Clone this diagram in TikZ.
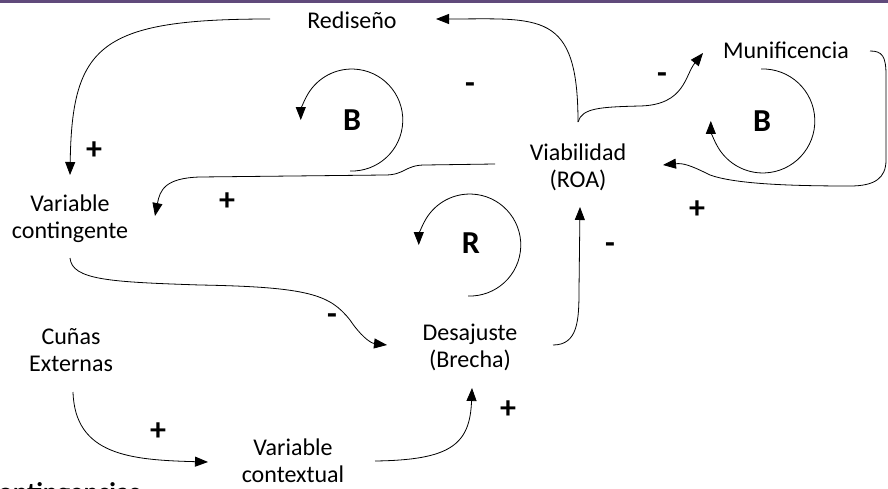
\documentclass[tikz,border=0pt]{standalone}
\usepackage{fontspec}
\setmainfont{Carlito}
\usetikzlibrary{arrows.meta,calc}
\definecolor{barpurple}{RGB}{96,74,123}

\begin{document}
\begin{tikzpicture}[x=1pt,y=-1pt,inner sep=0pt,
  var/.style={align=center,font=\fontsize{24}{27}\selectfont},
  sgn/.style={font=\fontsize{32}{38}\selectfont\bfseries},
  loopname/.style={font=\fontsize{32}{38}\selectfont\bfseries},
  link/.style={line width=0.8pt,-{Triangle[length=13pt,width=10pt]}}]
\useasboundingbox (0,0) rectangle (888,489);
\clip (0,0) rectangle (888,489);
\fill[barpurple] (0,0) rectangle (888,3);

% variables
\node[var] (redis) at (352,20) {Rediseño};
\node[var] (munif) at (786,50) {Munificencia};
\node[var] (viab) at (578,167) {Viabilidad\\(ROA)};
\node[var] (vcont) at (70,219) {Variable\\contingente};
\node[var] (desaj) at (470,347) {Desajuste\\(Brecha)};
\node[var] (cunas) at (71,350) {Cuñas\\Externas};
\node[var] (vctx) at (293,461) {Variable\\contextual};
\node[font=\fontsize{27}{32}\selectfont\bfseries,anchor=base west] (pie) at (-13,501) {contingencias};

% links
\draw[link] ($(redis)+(-82,-1)$) .. controls +(-170,0) and +(2,-130) .. ($(vcont)+(0,-44)$);
\draw[link] ($(viab)+(0,-45)$) .. controls +(0,-112) and +(104,0) .. ($(redis)+(84,-1)$);
\draw[link] ($(viab)+(0,-45)$) .. controls +(4,-14) and +(-40,1) .. (640,106)
  .. controls +(45,-1) and +(-18,22) .. ($(munif)+(-83,3)$);
\draw[link] ($(munif)+(84,1)$) .. controls +(12,0) and +(0,-19) .. (886,75) -- (886,160)
  .. controls +(0,18) and +(25,0) .. (850,186) .. controls +(-60,0) and +(25,9) .. (710,175)
  .. controls +(-20,-10) and +(20,-2) .. ($(viab)+(85,-2)$);
\draw[link] ($(viab)+(-83,-3)$) -- (425,165) .. controls +(-20,0) and +(20,0) .. (385,175) -- (200,177)
  .. controls +(-35,1) and +(5,-26) .. ($(vcont)+(85,-3)$);
\draw[link] ($(vcont)+(0,39)$) .. controls +(2,22) and +(-90,-3) .. (200,285)
  .. controls +(110,2) and +(-20,-25) .. (350,320) .. controls +(10,15) and +(-17,-2) .. ($(desaj)+(-83,-2)$);
\draw[link] ($(desaj)+(83,-2)$) .. controls +(25,0) and +(0,30) .. (579,290) -- ($(viab)+(2,40)$);
\draw[link] ($(cunas)+(2,42)$) .. controls +(2,63) and +(-78,-2) .. ($(vctx)+(-85,1)$);
\draw[link] ($(vctx)+(82,0)$) .. controls +(75,-1) and +(-2,57) .. ($(desaj)+(2,41)$);

% polarities
\node[sgn] (s1) at (94,150.5) {+};
\node[sgn] (s2) at (227,201.5) {+};
\node[sgn] (s3) at (470,88) {-};
\node[sgn] (s4) at (662,78) {-};
\node[sgn] (s5) at (697,209.5) {+};
\node[sgn] (s6) at (610,248) {-};
\node[sgn] (s7) at (332,319) {-};
\node[sgn] (s8) at (158,431.5) {+};
\node[sgn] (s9) at (508,409.5) {+};

% loops
\node[loopname] (lb1) at (352,120) {B};
\node[loopname] (lb2) at (762,121) {B};
\node[loopname] (lr) at (471,243) {R};
\draw[link] ($(lb1)+(-2,51)$) arc[start angle=-92,end angle=180,radius=51pt];
\draw[link] ($(lr)+(-3,53)$) arc[start angle=-92,end angle=180,radius=51pt];
\draw[link] ($(lb2)+(-1,-52)$) arc[start angle=92,end angle=-180,radius=52pt];
\end{tikzpicture}
\end{document}
